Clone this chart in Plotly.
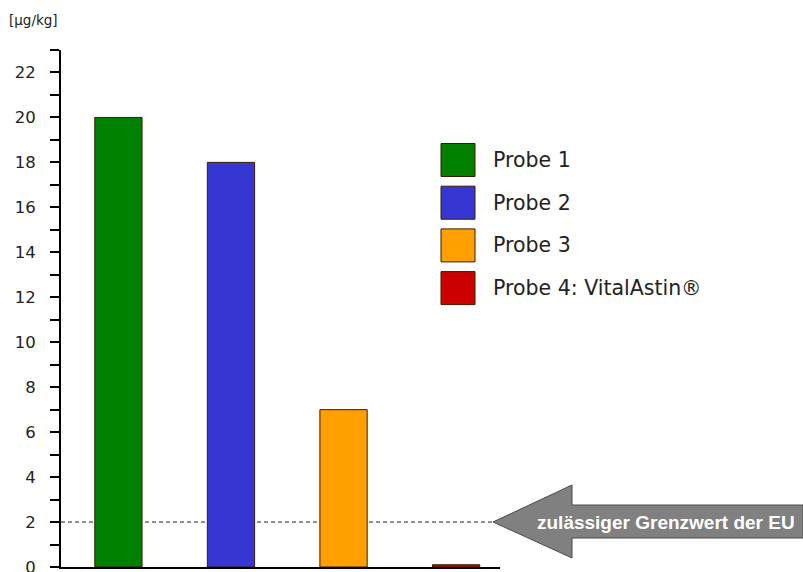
import plotly.graph_objects as go

categories = ["Probe 1", "Probe 2", "Probe 3", "Probe 4: VitalAstin®"]
values = [20, 18, 7, 0.1]
colors = ["#008000", "#3636d2", "#ffa000", "#cc0000"]
limit_value = 2
limit_text = "zulässiger Grenzwert der EU"
y_unit = "[µg/kg]"

W, H = 803, 572
L, R, T, B = 61, 500, 50, 567  # plot area in pixels

def px(x):
    return (x - L) / (R - L)

def py(y):
    return (B - y) / (B - T)

FONT = "DejaVu Sans, Arial, sans-serif"

fig = go.Figure()
fig.add_trace(go.Bar(
    x=list(range(len(categories))), y=values,
    marker=dict(color=colors, line=dict(color="#3a1a00", width=1)),
    width=0.42, showlegend=False, hoverinfo="skip",
))

shapes = []
# limit line
shapes.append(dict(type="line", xref="paper", yref="y", x0=0, x1=px(493),
                   y0=limit_value, y1=limit_value,
                   line=dict(color="#222222", width=1, dash="4px,3px"), layer="below"))
# arrow
pts = [(493, 522), (572, 485), (572, 505), (803, 505), (803, 538), (572, 538), (572, 558)]
path = "M " + " L ".join(f"{px(a):.5f},{py(b):.5f}" for a, b in pts) + " Z"
shapes.append(dict(type="path", xref="paper", yref="paper", path=path,
                   fillcolor="#808080", line=dict(color="#4a4a4a", width=1)))

annotations = [
    dict(text=limit_text, xref="paper", yref="paper", x=px(666), y=py(522),
         showarrow=False, font=dict(family="Liberation Sans, Arial, sans-serif",
                                    size=19, color="white", weight="bold"),
         xanchor="center", yanchor="middle"),
    dict(text=y_unit, xref="paper", yref="paper", x=px(7), y=py(20),
         showarrow=False, font=dict(family=FONT, size=13.5, color="#222222"),
         xanchor="left", yanchor="middle"),
]

# manual legend
for i, (name, c) in enumerate(zip(categories, colors)):
    yc = 160 + i * 42.7
    shapes.append(dict(type="rect", xref="paper", yref="paper",
                       x0=px(441), x1=px(475), y0=py(yc - 16.5), y1=py(yc + 16.5),
                       fillcolor=c, line=dict(color="#3a1a00", width=1)))
    annotations.append(dict(text=name, xref="paper", yref="paper", x=px(491), y=py(yc),
                            showarrow=False, xanchor="left", yanchor="middle",
                            font=dict(family=FONT, size=20.5, color="#222222")))

fig.update_layout(
    width=W, height=H,
    margin=dict(l=L, r=W - R, t=T, b=H - B, pad=0, autoexpand=False),
    paper_bgcolor="white", plot_bgcolor="white",
    shapes=shapes, annotations=annotations,
    xaxis=dict(range=[-0.51, 3.39], showticklabels=False, ticks="", showgrid=False,
               zeroline=False, showline=True, linecolor="black", linewidth=2, fixedrange=True,
               automargin=False),
    yaxis=dict(range=[0, 23], dtick=2, tick0=0, ticks="outside", ticklen=9, tickwidth=2,
               tickcolor="black", showgrid=False, zeroline=False, showline=True,
               linecolor="black", linewidth=2, ticklabelstandoff=11,
               ticklabeloverflow="allow", automargin=False,
               tickfont=dict(family=FONT, size=16.5, color="#222222"),
               minor=dict(dtick=1, ticks="outside", ticklen=9, tickwidth=2, tickcolor="black",
                          showgrid=False)),
    showlegend=False,
)

fig.write_html("out.html")
